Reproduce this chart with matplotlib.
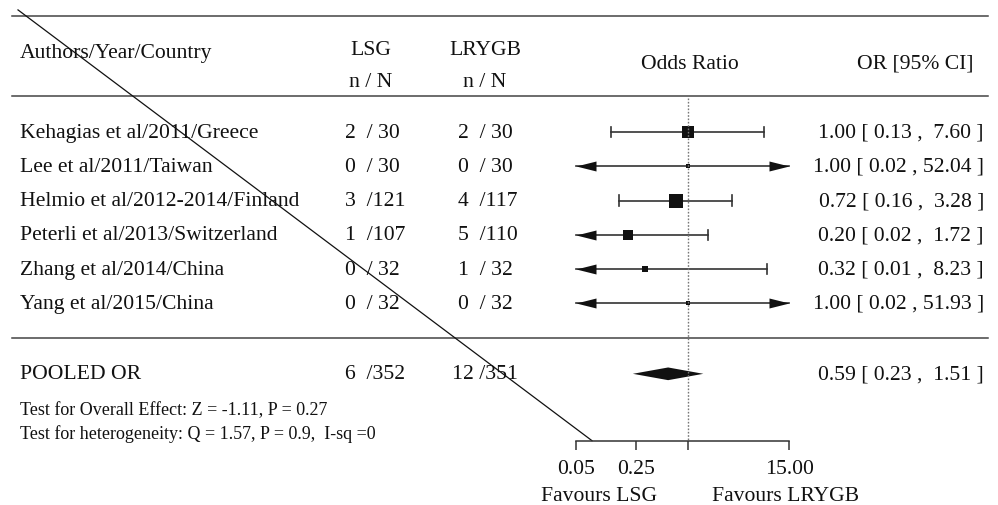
import matplotlib.pyplot as plt
import numpy as np

# study data
authors = ['Kehagias et al/2011/Greece', 'Lee et al/2011/Taiwan',
           'Helmio et al/2012-2014/Finland', 'Peterli et al/2013/Switzerland',
           'Zhang et al/2014/China', 'Yang et al/2015/China']
lsg_events = [2, 0, 3, 1, 0, 0]
lsg_total = [30, 30, 121, 107, 32, 32]
rygb_events = [2, 0, 4, 5, 1, 0]
rygb_total = [30, 30, 117, 110, 32, 32]
odds = [1.00, 1.00, 0.72, 0.20, 0.32, 1.00]
ci_low = [0.13, 0.02, 0.16, 0.02, 0.01, 0.02]
ci_high = [7.60, 52.04, 3.28, 1.72, 8.23, 51.93]
weights = [22.9, 4.4, 39.3, 20.0, 9.0, 4.4]   # % weight (box area)

pooled_lsg = (6, 352)
pooled_rygb = (12, 351)
pooled_or = 0.59
pooled_ci = (0.23, 1.51)

ticks = [0.05, 0.25, 1, 15]
tick_labels = ['0.05', '0.25', '', '15.00']
xmin, xmax = 0.05, 15

overall_txt = 'Test for Overall Effect: Z = -1.11, P = 0.27'
hetero_txt = 'Test for heterogeneity: Q = 1.57, P = 0.9,  I-sq =0'

plt.rcParams['font.family'] = ['Liberation Serif', 'DejaVu Serif']
FS = 15.6
INK = '#111111'

# rows: 0..5 studies, 7.05 pooled, axis at row 9
ylim = (10.875, -3.878)

fig = plt.figure(figsize=(9.98, 5.06), dpi=100)
ax_t = fig.add_axes([0, 0, 1, 1])
ax_t.set_xlim(0, 998)
ax_t.set_ylim(*ylim)
ax_t.axis('off')

ax = fig.add_axes([575.7 / 998, 0, (789.3 - 575.7) / 998, 1])
ax.set_facecolor('none')
ax.set_xscale('log')
ax.set_xlim(xmin, xmax)
ax.set_ylim(*ylim)

# header and separators
for r in [-3.38, -1.06, 6.02]:
    ax_t.plot([12, 988], [r, r], color='#444444', lw=1.1)

ax_t.text(20, -2.32, 'Authors/Year/Country', ha='left', va='center', fontsize=FS, color=INK)
ax_t.text(371, -2.42, 'LSG', ha='center', va='center', fontsize=FS, color=INK)
ax_t.text(485, -2.42, 'LRYGB', ha='center', va='center', fontsize=FS, color=INK)
ax_t.text(371, -1.48, 'n / N', ha='center', va='center', fontsize=FS, color=INK)
ax_t.text(485, -1.48, 'n / N', ha='center', va='center', fontsize=FS, color=INK)
ax_t.text(690, -2.0, 'Odds Ratio', ha='center', va='center', fontsize=FS, color=INK)
ax_t.text(974, -2.0, 'OR [95% CI]', ha='right', va='center', fontsize=FS, color=INK)

# study rows
rows = np.arange(len(authors))
for i in rows:
    ax_t.text(20, i, authors[i], ha='left', va='center', fontsize=FS, color=INK)
    ax_t.text(345, i, f'{lsg_events[i]:<2} /{lsg_total[i]:>3}', ha='left', va='center',
              fontsize=FS, color=INK)
    ax_t.text(458, i, f'{rygb_events[i]:<2} /{rygb_total[i]:>3}', ha='left', va='center',
              fontsize=FS, color=INK)
    ax_t.text(984, i, f'{odds[i]:.2f} [ {ci_low[i]:.2f} , {ci_high[i]:>5.2f} ]',
              ha='right', va='center', fontsize=FS, color=INK)

    lo = max(ci_low[i], xmin)
    hi = min(ci_high[i], xmax)
    ax.plot([lo, hi], [i, i], color='#333333', lw=1.2, clip_on=False)
    if ci_low[i] < xmin:
        ax.plot(xmin, i, marker=[(0, 0), (4, 1), (4, -1)], ms=28.8, color=INK,
                mew=0, clip_on=False)
    else:
        ax.plot([lo, lo], [i - 0.15, i + 0.15], color='#333333', lw=1.2)
    if ci_high[i] > xmax:
        ax.plot(xmax, i, marker=[(0, 0), (-4, 1), (-4, -1)], ms=28.8, color=INK,
                mew=0, clip_on=False)
    else:
        ax.plot([hi, hi], [i - 0.15, i + 0.15], color='#333333', lw=1.2)
    ax.plot(odds[i], i, marker='s', ms=2.3 * np.sqrt(weights[i]) * 0.72,
            color=INK, mew=0)

# pooled
pr = 7.05
ax_t.text(20, pr, 'POOLED OR', ha='left', va='center', fontsize=FS, color=INK)
ax_t.text(345, pr, f'{pooled_lsg[0]:<2} /{pooled_lsg[1]:>3}', ha='left', va='center',
          fontsize=FS, color=INK)
ax_t.text(452, pr, f'{pooled_rygb[0]:<2} /{pooled_rygb[1]:>3}', ha='left', va='center',
          fontsize=FS, color=INK)
ax_t.text(984, pr, f'{pooled_or:.2f} [ {pooled_ci[0]:.2f} , {pooled_ci[1]:>5.2f} ]',
          ha='right', va='center', fontsize=FS, color=INK)
h = 0.185
ax.fill([pooled_ci[0], pooled_or, pooled_ci[1], pooled_or],
        [pr, pr - h, pr, pr + h], color=INK, lw=0)

ax_t.text(20, 8.1, overall_txt, ha='left', va='center', fontsize=13, color=INK)
ax_t.text(20, 8.77, hetero_txt, ha='left', va='center', fontsize=13, color=INK)

# null line
ax.plot([1, 1], [-1.0, 9], color='#777777', lw=1, ls=(0, (1.2, 1.2)))

# axis
for s in ['top', 'left', 'right']:
    ax.spines[s].set_visible(False)
ax.spines['bottom'].set_position(('data', 9))
ax.spines['bottom'].set_color('#333333')
ax.spines['bottom'].set_linewidth(1.1)
ax.set_xticks(ticks)
ax.set_xticklabels(tick_labels)
ax.minorticks_off()
ax.tick_params(axis='x', direction='out', length=6.5, width=1.1, color='#333333',
               labelsize=FS, labelcolor=INK, pad=7)
ax.set_yticks([])

ax_t.text(657, 10.6, 'Favours LSG', ha='right', va='center', fontsize=FS, color=INK)
ax_t.text(712, 10.6, 'Favours LRYGB', ha='left', va='center', fontsize=FS, color=INK)

# stray diagonal stroke in the original
ax_t.plot([18, 592], [-3.56, 9.0], color=INK, lw=0.9)

fig.savefig('out.png', dpi=100)
